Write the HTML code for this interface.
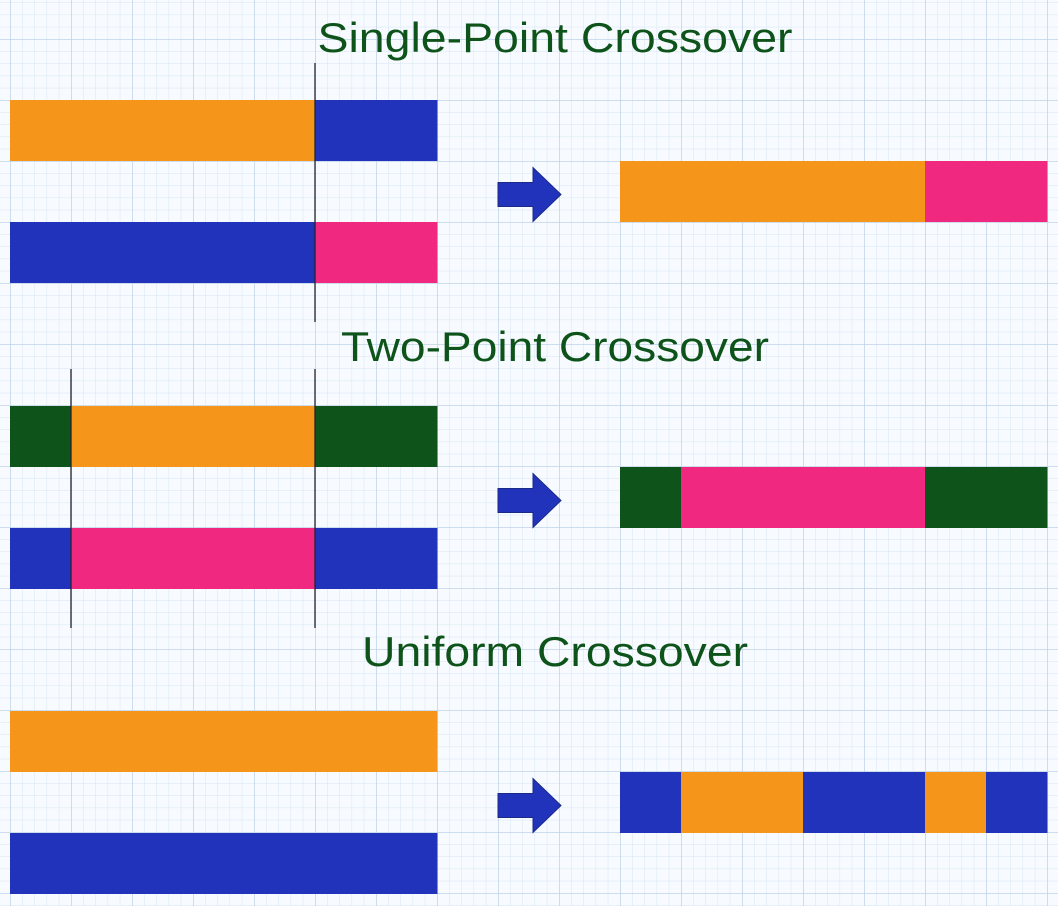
<!DOCTYPE html>
<html><head><meta charset="utf-8"><style>
html,body{margin:0;padding:0;background:#f7fbff;}
svg{display:block}
</style></head><body>
<svg id="chart" width="1058" height="906" xmlns="http://www.w3.org/2000/svg">
<defs>
<pattern id="minor" width="12.2" height="12.2" patternUnits="userSpaceOnUse" x="10" y="39">
<path d="M0 0H12.2M0 0V12.2" stroke="#d6e4f2" stroke-width="1" fill="none"/>
</pattern>
<pattern id="major" width="61" height="61" patternUnits="userSpaceOnUse" x="10" y="39">
<path d="M0 0H61M0 0V61" stroke="#bfd3e8" stroke-width="1.5" fill="none"/>
</pattern>
</defs>
<rect width="1058" height="906" fill="#f7fbff"/>
<rect width="1058" height="906" fill="url(#minor)"/>
<rect width="1058" height="906" fill="url(#major)"/>
<g id="content"></g>
</svg>
<script>
const colors = {O:'#f5961a', B:'#2233bb', P:'#f0287f', G:'#0e531a'};
const titles = ['Single-Point Crossover','Two-Point Crossover','Uniform Crossover'];
const titleY = [52, 361, 666];
const titleW = [475, 428, 386];
const parentA = [['O','O','O','O','O','B','B'],['G','O','O','O','O','G','G'],['O','O','O','O','O','O','O']];
const parentB = [['B','B','B','B','B','P','P'],['B','P','P','P','P','B','B'],['B','B','B','B','B','B','B']];
const childs  = [['O','O','O','O','O','P','P'],['G','P','P','P','P','G','G'],['B','O','O','B','B','O','B']];
const cutPoints = [[5],[1,5],[]];
const sectionTop = [100, 406, 711];

const NS='http://www.w3.org/2000/svg';
const g=document.getElementById('content');
const U=61, X0=10, CX0=620, H=61;
function xs(i){return X0+i*U;}
function cx(i){return CX0+i*U;}
function mk(tag,attrs){const e=document.createElementNS(NS,tag);for(const k in attrs)e.setAttribute(k,attrs[k]);g.appendChild(e);return e;}
function drawBar(arr,xf,y,name){
  arr.forEach((c,i)=>{
    const r=mk('rect',{x:xf(i),y:y,width:U+0.5,height:H,fill:colors[c]});
    
    
  });
}
titles.forEach((t,s)=>{
  const y=sectionTop[s];
  const tx=mk('text',{x:555,y:titleY[s],'text-anchor':'middle','font-family':'Liberation Sans, sans-serif','font-size':42,fill:'#0e531a',textLength:titleW[s],lengthAdjust:'spacingAndGlyphs'});
  tx.textContent=t;
  
  
  drawBar(parentA[s],xs,y,'parent-a-'+(s+1));
  drawBar(parentB[s],xs,y+2*U,'parent-b-'+(s+1));
  drawBar(childs[s],cx,y+U,'child-'+(s+1));
  cutPoints[s].forEach((c,k)=>{
    const l=mk('line',{x1:xs(c),x2:xs(c),y1:y-37,y2:y+2*U+H+39,stroke:'#223',"stroke-width":1.3});
    
    
  });
  const cy=y+U+H/2+3;
  const a=mk('polygon',{points:`498,${cy-12} 533,${cy-12} 533,${cy-27} 561,${cy} 533,${cy+27} 533,${cy+12} 498,${cy+12}`,fill:'#2233bb',stroke:'#1a2a88','stroke-width':1});
  
  
});
</script>
</body></html>
